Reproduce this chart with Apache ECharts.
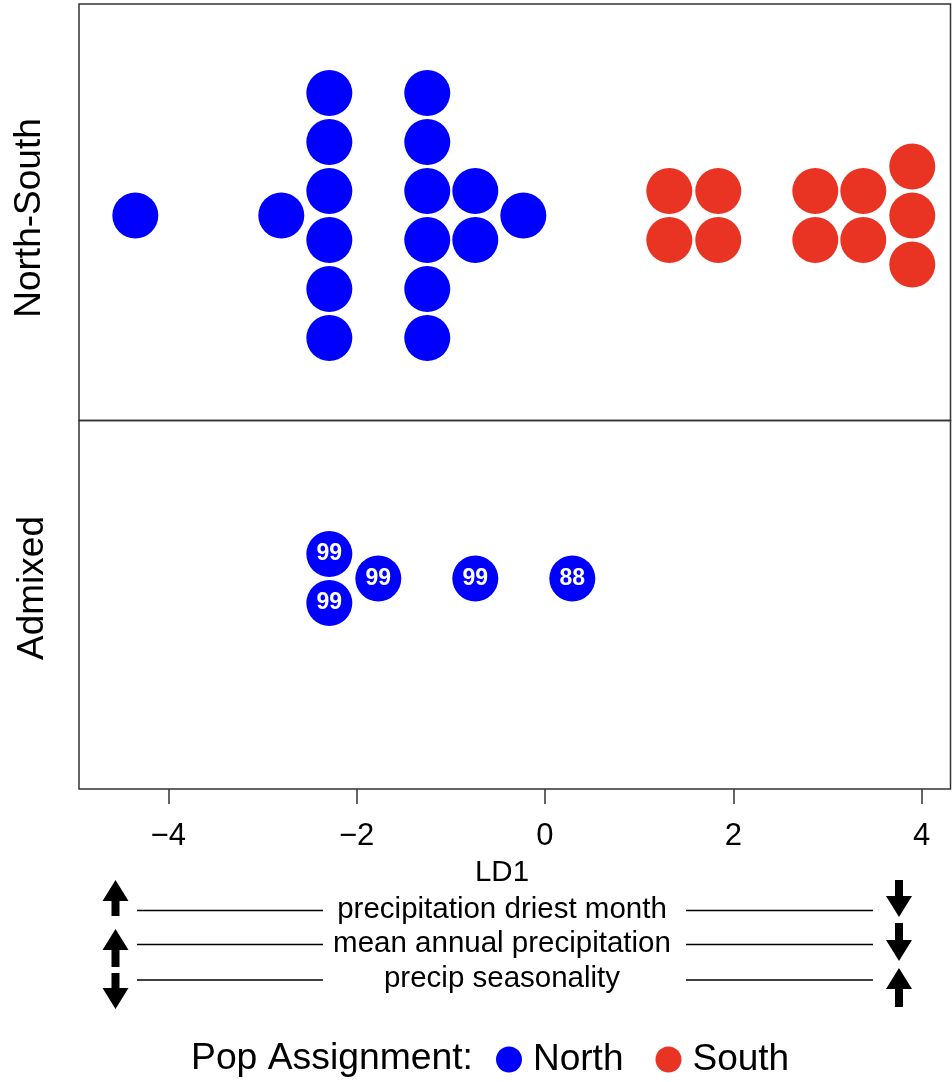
<!DOCTYPE html>
<html>
<head>
<meta charset="utf-8">
<script src="https://cdn.jsdelivr.net/npm/echarts@6/dist/echarts.min.js"></script>
<style>html,body{margin:0;padding:0;background:#fff;}#c{width:952px;height:1082px;}</style>
</head>
<body>
<div id="c"></div>
<script>
// ---- data (LD1 scores, beeswarm stacking offsets in dot units) ----
const northX = [-4.35, -2.80, -2.29, -2.29, -2.29, -2.29, -2.29, -2.29, -1.25, -1.25, -1.25, -1.25, -1.25, -1.25, -0.74, -0.74, -0.23];
const northY = [0, 0, 2.5, 1.5, 0.5, -0.5, -1.5, -2.5, 2.5, 1.5, 0.5, -0.5, -1.5, -2.5, 0.5, -0.5, 0];
const southX = [1.32, 1.32, 1.84, 1.84, 2.87, 2.87, 3.38, 3.38, 3.90, 3.90, 3.90];
const southY = [0.5, -0.5, 0.5, -0.5, 0.5, -0.5, 0.5, -0.5, 1, 0, -1];
const admixX = [-2.29, -2.29, -1.77, -0.74, 0.29];
const admixY = [0.5, -0.5, 0, 0, 0];
const admixProb = [99, 99, 99, 99, 88];
const xTicks = [-4, -2, 0, 2, 4];
const panelLabels = ['North-South', 'Admixed'];
const envVars = ['precipitation driest month', 'mean annual precipitation', 'precip seasonality'];
const leftDir = ['up', 'up', 'down'];
const rightDir = ['down', 'down', 'up'];

const BLUE = '#0000FF', RED = '#E93424', INK = '#000';
const FONT = '"Liberation Sans", Arial, Helvetica, sans-serif';

const chart = echarts.init(document.getElementById('c'), null, {renderer: 'canvas'});

function pairs(xs, ys) { return xs.map((x, i) => [x, ys[i]]); }
function fmtMinus(v) { return v < 0 ? '\u2212' + Math.abs(v) : String(v); }

function arrow(cx, top, bottom, dir) {
  const hw = 13, sw = 4, hh = 21;
  let pts;
  if (dir === 'up') {
    pts = [[cx, top], [cx + hw, top + hh], [cx + sw, top + hh], [cx + sw, bottom], [cx - sw, bottom], [cx - sw, top + hh], [cx - hw, top + hh]];
  } else {
    pts = [[cx, bottom], [cx + hw, bottom - hh], [cx + sw, bottom - hh], [cx + sw, top], [cx - sw, top], [cx - sw, bottom - hh], [cx - hw, bottom - hh]];
  }
  return {type: 'polygon', shape: {points: pts}, style: {fill: INK}, z: 10};
}

const lineYs = [910.5, 944.5, 980];
const leftArrowBox = [[880, 916], [929, 967], [973, 1009]];
const rightArrowBox = [[880, 917], [923, 961], [968, 1007]];

const graphics = [];
// panel labels
graphics.push({type: 'text', x: 30, y: 218, rotation: Math.PI / 2,
  style: {text: panelLabels[0], font: '37px ' + FONT, fill: INK, align: 'center', verticalAlign: 'middle'}});
graphics.push({type: 'text', x: 33, y: 588, rotation: Math.PI / 2,
  style: {text: panelLabels[1], font: '37px ' + FONT, fill: INK, align: 'center', verticalAlign: 'middle'}});
// LD1 axis title
graphics.push({type: 'text', x: 502, y: 873,
  style: {text: 'LD1', font: '29.5px ' + FONT, fill: INK, align: 'center', verticalAlign: 'middle'}});
envVars.forEach((t, i) => {
  const y = lineYs[i];
  graphics.push({type: 'line', shape: {x1: 137, y1: y, x2: 323, y2: y}, style: {stroke: INK, lineWidth: 1.5}});
  graphics.push({type: 'line', shape: {x1: 686, y1: y, x2: 873, y2: y}, style: {stroke: INK, lineWidth: 1.5}});
  graphics.push({type: 'text', x: 502, y: y - 1,
    style: {text: t, font: '29.5px ' + FONT, fill: INK, align: 'center', verticalAlign: 'middle'}});
  graphics.push(arrow(115.5, leftArrowBox[i][0], leftArrowBox[i][1], leftDir[i]));
  graphics.push(arrow(899, rightArrowBox[i][0], rightArrowBox[i][1], rightDir[i]));
});
// legend title
graphics.push({type: 'text', x: 191, y: 1059,
  style: {text: 'Pop Assignment:', font: '37.3px ' + FONT, fill: INK, align: 'left', verticalAlign: 'middle'}});

const dotSize = 46;

chart.setOption({
  animation: false,
  backgroundColor: '#fff',
  textStyle: {fontFamily: FONT},
  grid: [
    {left: 79, top: 4, width: 871.5, height: 416.5, show: true, borderColor: '#333', borderWidth: 1.5, backgroundColor: 'transparent', containLabel: false},
    {left: 79, top: 420.5, width: 871.5, height: 368.5, show: true, borderColor: '#333', borderWidth: 1.5, backgroundColor: 'transparent', containLabel: false}
  ],
  xAxis: [
    {type: 'value', gridIndex: 0, min: -4.948, max: 4.306, show: false},
    {type: 'value', gridIndex: 1, min: -4.948, max: 4.306, position: 'bottom',
      axisLine: {show: false, onZero: false}, splitLine: {show: false},
      axisTick: {show: true, length: 15, inside: false, customValues: xTicks, lineStyle: {color: '#333', width: 1.5}},
      axisLabel: {show: true, customValues: xTicks, margin: 32, fontSize: 31, color: INK, fontFamily: FONT, formatter: fmtMinus}}
  ],
  yAxis: [
    {type: 'value', gridIndex: 0, min: -4.184, max: 4.316, show: false},
    {type: 'value', gridIndex: 1, min: -4.296, max: 3.224, show: false}
  ],
  legend: {
    show: true, left: 491, top: 1036, orient: 'horizontal', icon: 'circle',
    itemWidth: 26, itemHeight: 26, itemGap: 32,
    data: ['North', 'South'],
    textStyle: {fontSize: 37, color: INK, fontFamily: FONT, padding: [0, 0, 0, 6]},
    selectedMode: false
  },
  series: [
    {name: 'North', type: 'scatter', xAxisIndex: 0, yAxisIndex: 0, data: pairs(northX, northY),
      symbol: 'circle', symbolSize: dotSize, itemStyle: {color: BLUE, opacity: 1}},
    {name: 'South', type: 'scatter', xAxisIndex: 0, yAxisIndex: 0, data: pairs(southX, southY),
      symbol: 'circle', symbolSize: dotSize, itemStyle: {color: RED, opacity: 1}},
    {name: 'North', type: 'scatter', xAxisIndex: 1, yAxisIndex: 1,
      data: admixX.map((x, i) => ({value: [x, admixY[i]]})),
      symbol: 'circle', symbolSize: dotSize, itemStyle: {color: BLUE, opacity: 1},
      label: {show: true, position: 'inside', color: '#fff', fontWeight: 'bold', fontSize: 23, fontFamily: FONT,
        formatter: p => String(admixProb[p.dataIndex])}}
  ],
  graphic: graphics
});
</script>
</body>
</html>
